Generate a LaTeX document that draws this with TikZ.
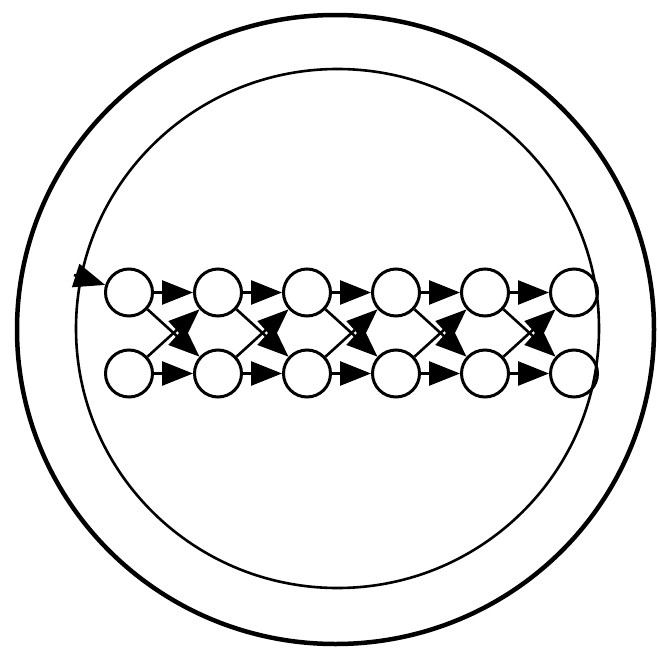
\documentclass[tikz,border=0pt]{standalone}
\usetikzlibrary{arrows.meta}
\begin{document}
\begin{tikzpicture}[x=1pt, y=-1pt, >={Triangle[length=31pt, width=24pt]},
    state/.style={circle, draw, line width=3pt, minimum size=47pt, inner sep=0pt}]
    \useasboundingbox (0,0) rectangle (659,648);

    % 1. 外圈与内圈
    \draw[line width=4.5pt] (335.5,329.5) ellipse (318.5 and 314.5);
    \draw[line width=2.6pt] (337.5,328.5) ellipse (261.5 and 259.5);

    % 2. 两排节点 (上排 t1..t6, 下排 b1..b6)
    \foreach \i in {1,...,6} {
        \node[state] (t\i) at ({129+89*(\i-1)},292.5) {};
        \node[state] (b\i) at ({129+89*(\i-1)},373.5) {};
    }

    % 3. 横向与交叉的箭头
    \foreach \i [evaluate=\i as \j using int(\i+1)] in {1,...,5} {
        \draw[->, line width=2.6pt] (t\i) -- (t\j);
        \draw[->, line width=2.6pt] (b\i) -- (b\j);
        \draw[->, line width=2.6pt] (t\i) -- (b\j);
        \draw[->, line width=2.6pt] (b\i) -- (t\j);
    }

    % 4. 从内圈进入第一个节点
    \coordinate (entry) at (74,275);
    \draw[->, line width=2.6pt] (entry) -- (t1);
\end{tikzpicture}
\end{document}
